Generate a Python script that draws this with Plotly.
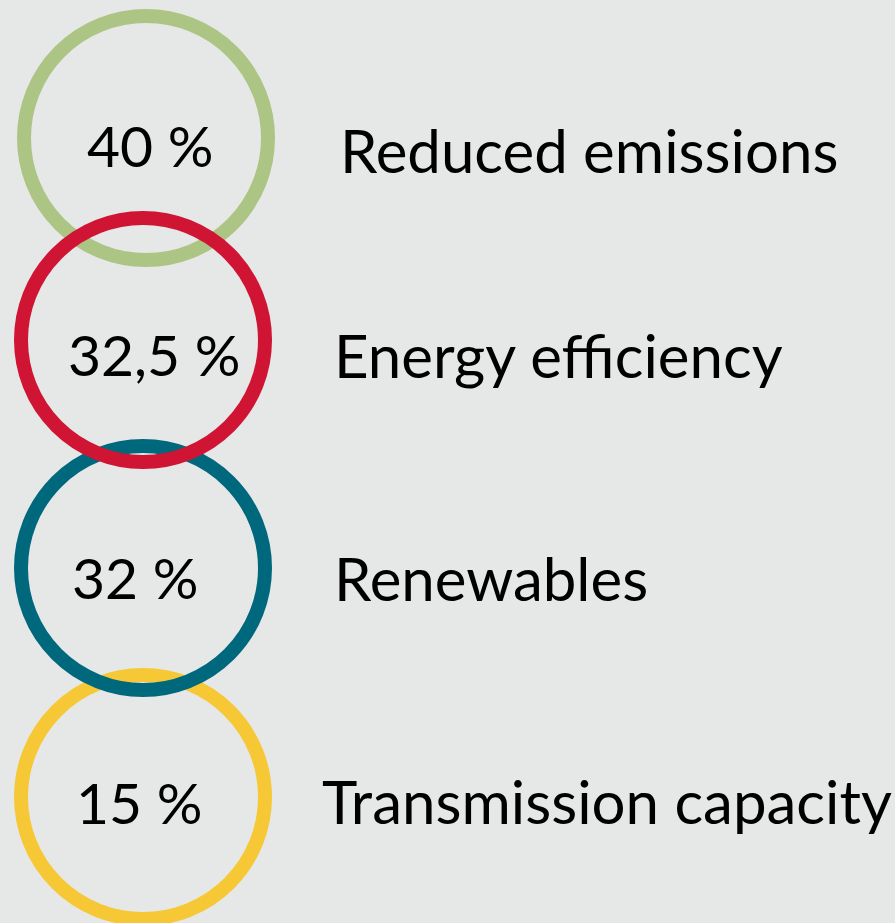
import plotly.graph_objects as go

# data
values = ["40 %", "32,5 %", "32 %", "15 %"]
labels = ["Reduced emissions", "Energy efficiency", "Renewables", "Transmission capacity"]
colors = ["#adc584", "#cf1434", "#00687d", "#f6c836"]

# layout (pixel coordinates)
W, H = 895, 923
center_x = [146, 143, 143, 143]
center_y = [138, 340, 568, 797]
value_x = [150, 154, 135, 139]
value_y = [145, 354, 577, 802]
label_x = [338, 332, 332, 320]
label_y = [150, 355, 578, 801]
radius = 122
ring = 14
bg = "#e6e8e7"
font = "Lato"

fig = go.Figure()
fig.add_trace(go.Scatter(x=[0, W], y=[0, H], mode="markers", marker=dict(opacity=0),
                         hoverinfo="skip", showlegend=False))

# drawing order: green, yellow, teal, red
for i in [0, 3, 2, 1]:
    fig.add_shape(type="circle", xref="x", yref="y",
                  x0=center_x[i] - radius, x1=center_x[i] + radius,
                  y0=center_y[i] - radius, y1=center_y[i] + radius,
                  line=dict(color=colors[i], width=ring), layer="above")

for i in range(len(values)):
    fig.add_annotation(x=value_x[i], y=value_y[i], text=values[i], showarrow=False,
                       xanchor="center", yanchor="middle",
                       font=dict(family=font, size=57, color="#000000"))
    fig.add_annotation(x=label_x[i], y=label_y[i], text=labels[i], showarrow=False,
                       xanchor="left", yanchor="middle",
                       font=dict(family=font, size=60, color="#000000"))

fig.update_xaxes(range=[0, W], visible=False, fixedrange=True)
fig.update_yaxes(range=[H, 0], visible=False, fixedrange=True)
fig.update_layout(width=W, height=H, margin=dict(l=0, r=0, t=0, b=0),
                  paper_bgcolor=bg, plot_bgcolor=bg, showlegend=False)

fig.write_html("out.html", config={"displayModeBar": False},
               post_script="document.body.style.margin='0';")
